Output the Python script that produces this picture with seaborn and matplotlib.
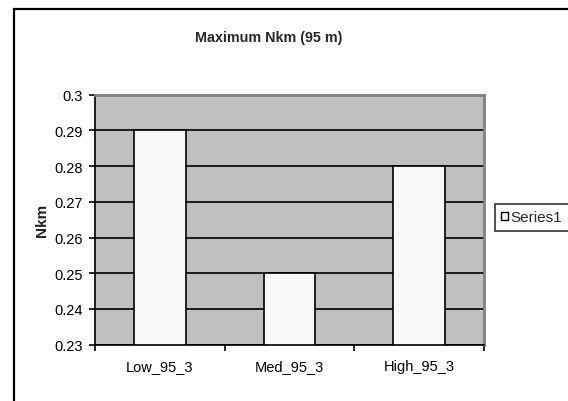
import matplotlib
matplotlib.use("Agg")
import matplotlib.pyplot as plt
import matplotlib.patches as mpatches
import seaborn as sns
import pandas as pd

categories = ["Low_95_3", "Med_95_3", "High_95_3"]
values = [0.29, 0.25, 0.28]
series_name = "Series1"
yticks = [0.23, 0.24, 0.25, 0.26, 0.27, 0.28, 0.29, 0.30]
ytick_labels = ["0.23", "0.24", "0.25", "0.26", "0.27", "0.28", "0.29", "0.3"]

sns.set_theme(style="white")
plt.rcParams['font.family'] = ['Liberation Sans', 'DejaVu Sans']

df = pd.DataFrame({"cat": categories, "val": values})

FS = 10.5
W, H = 568, 402
fig = plt.figure(figsize=(W / 100, H / 100), dpi=100)
fig.patch.set_facecolor("white")
ax = fig.add_axes([95 / W, 1 - 345.7 / H, 389 / W, 250 / H])

sns.barplot(data=df, x="cat", y="val", ax=ax, color="#F8F8F8", width=0.4,
            edgecolor="black", linewidth=1.2, saturation=1)
ax.set_facecolor("#C0C0C0")
ax.set_ylim(0.23, 0.30)
ax.set_xlim(-0.5, 2.5)
ax.set_yticks(yticks)
ax.set_yticklabels(ytick_labels, fontsize=FS)
ax.yaxis.grid(True, color="black", linewidth=1.2)
ax.set_axisbelow(True)
ax.set_xlabel("")
ax.set_ylabel("")
ax.tick_params(axis="y", direction="out", length=4, width=1.2, color="black",
               pad=5, left=True, labelsize=FS, labelcolor="black")
ax.tick_params(axis="x", which="major", length=0, pad=10, labelsize=FS,
               labelcolor="black")
ax.set_xticks([-0.5, 0.5, 1.5, 2.5], minor=True)
ax.tick_params(axis="x", which="minor", direction="out", length=4.5, width=1.2,
               color="black", bottom=True)
for s in ["left", "bottom"]:
    ax.spines[s].set_color("black")
    ax.spines[s].set_linewidth(1.2)
for s in ["top", "right"]:
    ax.spines[s].set_color("#808080")
    ax.spines[s].set_linewidth(2)

fig.text(269 / W, 1 - 38 / H, "Maximum Nkm (95 m)", ha="center", va="center",
         fontsize=10.3, fontweight="bold")
fig.text(42 / W, 1 - 220 / H, "Nkm", ha="center", va="center", rotation=90,
         fontsize=11, fontweight="bold")

# outer chart border
fig.patches.append(mpatches.Rectangle((13.5 / W, -0.2), 1.2, 1.2 - 10 / H,
                                      transform=fig.transFigure, fill=False,
                                      edgecolor="black", linewidth=1.6))

handle = mpatches.Patch(facecolor="#F8F8F8", edgecolor="black", linewidth=1.0,
                        label=series_name)
leg = fig.legend(handles=[handle], loc="upper left",
                 bbox_to_anchor=(495 / W, 1 - 205 / H), borderaxespad=0,
                 fontsize=11, frameon=True, fancybox=False, handlelength=0.45,
                 handleheight=0.45, handletextpad=0.15, borderpad=0.42)
leg.get_frame().set_edgecolor("black")
leg.get_frame().set_linewidth(1.2)

fig.savefig("out.png", dpi=100)
